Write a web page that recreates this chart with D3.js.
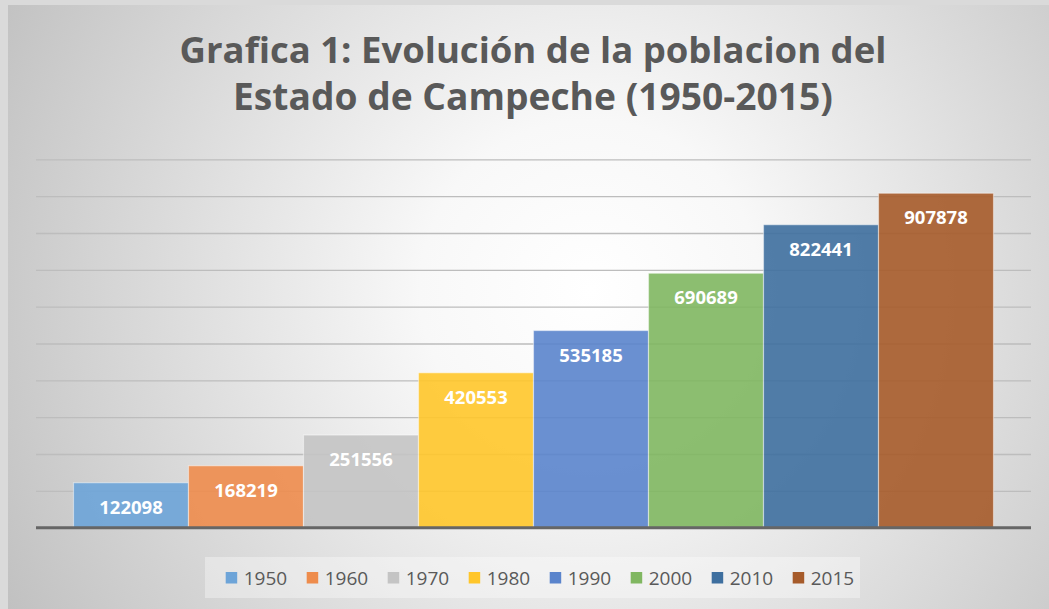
<!DOCTYPE html>
<html>
<head>
<meta charset="utf-8">
<script src="https://cdn.jsdelivr.net/npm/d3@7"></script>
<style>
  html, body { margin: 0; padding: 0; background: #d9d9d9; }
  svg { display: block; }
</style>
</head>
<body>
<svg id="chart" width="1049" height="609"></svg>
<script>
// ---- data ----
const years = ["1950", "1960", "1970", "1980", "1990", "2000", "2010", "2015"];
const population = [122098, 168219, 251556, 420553, 535185, 690689, 822441, 907878];
const colors = ["#6da4d8", "#ee8c4c", "#c4c4c4", "#ffc62a", "#5a84cc", "#80b761", "#3e6f9f", "#a65b2a"];
const yTicks = [0, 100000, 200000, 300000, 400000, 500000, 600000, 700000, 800000, 900000, 1000000];
const titleLines = ["Grafica 1: Evolución de la poblacion del", "Estado de Campeche (1950-2015)"];

const svg = d3.select("#chart");
const W = 1049, H = 609;

// background gradient
const defs = svg.append("defs");
const rg = defs.append("radialGradient").attr("id", "bg")
  .attr("gradientUnits", "userSpaceOnUse")
  .attr("cx", 590).attr("cy", 290).attr("r", 680);
rg.append("stop").attr("offset", "0").attr("stop-color", "#ffffff");
rg.append("stop").attr("offset", "0.25").attr("stop-color", "#f8f8f8");
rg.append("stop").attr("offset", "1").attr("stop-color", "#bfbfbf");

svg.append("rect").attr("x", 0).attr("y", 0).attr("width", W).attr("height", H).attr("fill", "#dadada");
svg.append("rect").attr("x", 8).attr("y", 5).attr("width", W - 8).attr("height", H - 5).attr("fill", "url(#bg)");

// scales
const plotL = 36, plotR = 1031, plotB = 527.7, plotT = 159.3;
const x = d3.scaleBand().domain(years).range([plotL, plotR]).paddingInner(0).paddingOuter(0.326);
const y = d3.scaleLinear().domain([0, 1000000]).range([plotB, plotT]);

// gridlines via axis
const grid = svg.append("g").attr("transform", `translate(${plotL},0)`)
  .call(d3.axisRight(y).tickValues(yTicks.slice(1)).tickSize(plotR - plotL).tickFormat(""));
grid.select(".domain").remove();
grid.selectAll(".tick line").attr("stroke", "#bdbdbd").attr("stroke-width", 1.3);

// bars
svg.append("g").selectAll("rect").data(years).join("rect")
  .attr("x", d => x(d))
  .attr("y", (d, i) => y(population[i]))
  .attr("width", x.bandwidth())
  .attr("height", (d, i) => plotB - y(population[i]))
  .attr("fill", (d, i) => colors[i])
  .attr("fill-opacity", 0.9)
  .attr("stroke", "#ffffff")
  .attr("stroke-opacity", 0.45)
  .attr("stroke-width", 1.2);

// baseline axis
const xAxis = svg.append("g").attr("transform", `translate(0,${plotB})`)
  .call(d3.axisBottom(x).tickSize(0).tickFormat(""));
xAxis.select(".domain").attr("stroke", "#666666").attr("stroke-width", 3)
  .attr("d", `M${plotL},0H${plotR}`);

// value labels
svg.append("g").selectAll("text").data(years).join("text")
  .attr("x", d => x(d) + x.bandwidth() / 2)
  .attr("y", (d, i) => y(population[i]) + 31)
  .attr("text-anchor", "middle")
  .attr("font-family", "'Open Sans', sans-serif")
  .attr("font-weight", "bold")
  .attr("font-size", 18.5)
  .attr("fill", "#ffffff")
  .text((d, i) => population[i]);

// title
const titleWidths = [707, 600];
const titleBase = [63, 110];
titleLines.forEach((t, i) => {
  const txt = svg.append("text")
    .attr("x", 533).attr("y", titleBase[i])
    .attr("text-anchor", "middle")
    .attr("font-family", "'Open Sans', sans-serif")
    .attr("font-weight", "bold")
    .attr("font-size", 30)
    .attr("fill", "#595959")
    .text(t);
  const w = txt.node().getComputedTextLength();
  txt.attr("font-size", 30 * titleWidths[i] / w);
});

// legend
svg.append("rect").attr("x", 205).attr("y", 557).attr("width", 655).attr("height", 41)
  .attr("fill", "#ffffff").attr("fill-opacity", 0.35);
const leg = svg.append("g").selectAll("g").data(years).join("g")
  .attr("transform", (d, i) => `translate(${225.7 + i * 81},0)`);
leg.append("rect").attr("x", 0).attr("y", 572).attr("width", 11.5).attr("height", 11.5)
  .attr("fill", (d, i) => colors[i]);
leg.append("text").attr("x", 18).attr("y", 584.5)
  .attr("font-family", "'Open Sans', sans-serif")
  .attr("font-size", 19)
  .attr("fill", "#595959")
  .text(d => d);
</script>
</body>
</html>
